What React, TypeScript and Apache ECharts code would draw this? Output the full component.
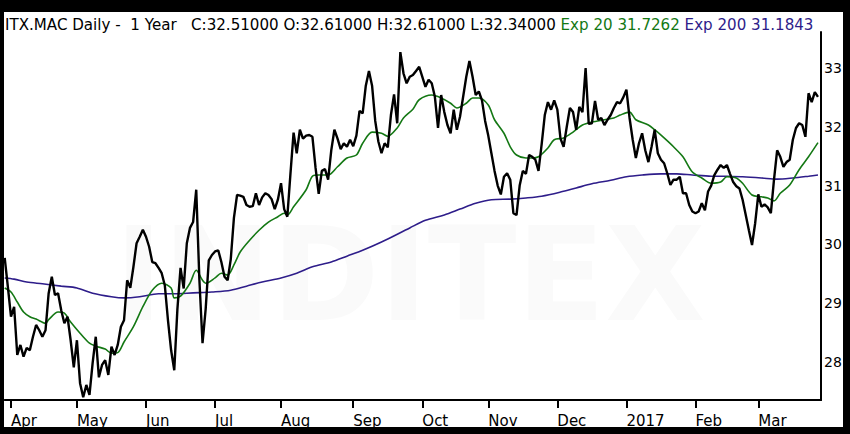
import React, { useEffect, useRef } from "react";
import * as echarts from "echarts";

// ---- data ----
const START_DATE = "2016-03-30"; // first trading day shown
const TITLE_PREFIX = "ITX.MAC Daily -  1 Year   ";
const OHLC_LABELS = ["C", "O", "H", "L"];
const OHLC_VALUES = ["32.51000", "32.61000", "32.61000", "32.34000"];
const EMA20_LABEL = "Exp 20 31.7262";
const EMA200_LABEL = "Exp 200 31.1843";

const price = [
  29.77, 29.28, 28.77, 28.94, 28.12, 28.29, 28.09, 28.24, 28.2, 28.43,
  28.63, 28.54, 28.43, 28.54, 29.17, 29.45, 29.14, 29.17, 28.88, 28.66,
  28.77, 28.37, 27.91, 28.37, 27.64, 27.4, 27.61, 27.44, 27.98, 28.43,
  27.74, 27.95, 28.03, 27.78, 28.26, 28.12, 28.29, 28.6, 28.71, 29.39,
  29.26, 29.62, 30.02, 30.13, 30.25, 30.13, 29.96, 29.7, 29.68, 29.6,
  29.51, 29.3, 28.71, 28.2, 27.86, 28.9, 29.6, 29.25, 30.02, 30.28,
  30.38, 30.93, 29.4, 28.32, 28.9, 29.73, 29.82, 29.88, 29.9, 29.7,
  29.45, 29.39, 29.75, 30.45, 30.84, 30.83, 30.81, 30.67, 30.64, 30.65,
  30.87, 30.67, 30.8, 30.87, 30.84, 30.77, 30.6, 30.76, 31.04, 30.6,
  30.47, 31.2, 31.9, 31.55, 31.95, 31.8, 31.85, 31.86, 31.83, 31.3,
  30.86, 31.25, 31.28, 31.1, 31.6, 31.95, 31.8, 31.62, 31.72, 31.66,
  31.78, 31.67, 31.85, 32.27, 32.23, 32.7, 32.95, 32.7, 32.1, 31.75,
  31.55, 31.72, 31.65, 32.2, 32.55, 32.06, 33.27, 32.91, 32.74, 32.85,
  32.88, 32.95, 33.02, 32.85, 32.68, 32.8, 32.74, 32.51, 31.98, 32.54,
  32.25, 32.03, 31.89, 32.29, 31.95, 32.17, 32.51, 32.85, 33.12, 32.85,
  32.54, 32.6, 32.45, 32.1, 31.85, 31.55, 31.25, 31.0, 30.85, 31.15,
  31.21, 31.1, 30.53, 30.5, 31.0, 31.25, 31.2, 31.52, 31.49, 31.44,
  31.25, 31.7, 32.2, 32.42, 32.29, 32.45, 32.29, 31.8, 31.66, 32.0,
  32.32, 32.25, 31.95, 32.34, 32.25, 33.0, 32.05, 32.06, 32.44, 32.12,
  32.15, 32.03, 32.12, 32.2, 32.32, 32.42, 32.4, 32.5, 32.63, 32.15,
  31.78, 31.47, 31.72, 31.89, 31.6, 31.4, 31.66, 31.95, 31.55, 31.44,
  31.38, 31.21, 31.01, 31.1, 31.1, 31.15, 30.87, 30.87, 30.67, 30.56,
  30.53, 30.56, 30.7, 30.58, 30.9, 31.0, 31.18, 31.27, 31.35, 31.3,
  31.35, 31.2, 31.06, 30.99, 30.95, 30.76, 30.5, 30.24, 29.99, 30.36,
  30.85, 30.64, 30.68, 30.63, 30.53, 31.1, 31.6, 31.49, 31.32, 31.4,
  31.44, 31.78, 31.98, 32.06, 32.03, 31.83, 32.57, 32.42, 32.59, 32.51,
];

// [trading-day index, value]
const ema20 = [
  [0, 29.26], [2, 29.19], [4, 29.02], [6, 28.85], [8, 28.77], [10, 28.73],
  [13, 28.66], [14, 28.72], [17, 28.85], [19, 28.83], [21, 28.68], [24, 28.49],
  [27, 28.32], [29, 28.27], [32, 28.22], [34, 28.15], [36, 28.16], [38, 28.34],
  [41, 28.6], [44, 28.94], [47, 29.22], [50, 29.34], [53, 29.26], [54, 29.09],
  [56, 29.12], [59, 29.34], [61, 29.56], [63, 29.39], [64, 29.34], [67, 29.43],
  [69, 29.51], [71, 29.48], [73, 29.65], [75, 29.87], [78, 30.07], [81, 30.24],
  [84, 30.38], [87, 30.47], [89, 30.53], [90, 30.5], [92, 30.64], [96, 30.93],
  [98, 31.16], [100, 31.18], [103, 31.18], [106, 31.32], [109, 31.47], [112, 31.52],
  [114, 31.72], [117, 31.91], [120, 31.89], [122, 31.84], [125, 31.98], [127, 32.15],
  [130, 32.3], [132, 32.46], [136, 32.54], [139, 32.49], [142, 32.4], [144, 32.32],
  [147, 32.4], [149, 32.49], [151, 32.49], [154, 32.37], [156, 32.12], [159, 31.89],
  [161, 31.66], [163, 31.52], [166, 31.47], [168, 31.47], [170, 31.49], [173, 31.64],
  [175, 31.78], [178, 31.81], [181, 31.91], [184, 32.03], [187, 32.08], [191, 32.12],
  [194, 32.15], [196, 32.2], [199, 32.25], [201, 32.12], [205, 32.03], [207, 31.95],
  [210, 31.81], [213, 31.66], [216, 31.49], [219, 31.23], [222, 31.13], [225, 31.04],
  [228, 31.06], [230, 31.15], [233, 31.13], [235, 31.04], [238, 30.84], [241, 30.81],
  [243, 30.79], [245, 30.74], [247, 30.87], [250, 31.01], [253, 31.27], [256, 31.49],
  [259, 31.73],
];

const ema200 = [
  [0, 29.43], [3, 29.41], [7, 29.36], [12, 29.33], [18, 29.29], [23, 29.26],
  [28, 29.17], [34, 29.11], [38, 29.09], [43, 29.11], [49, 29.16], [54, 29.16],
  [58, 29.17], [62, 29.18], [66, 29.19], [72, 29.22], [77, 29.29], [82, 29.36],
  [88, 29.43], [93, 29.51], [98, 29.62], [104, 29.7], [109, 29.8], [114, 29.9],
  [120, 30.04], [129, 30.28], [134, 30.41], [140, 30.5], [145, 30.6], [150, 30.7],
  [155, 30.76], [161, 30.77], [166, 30.79], [171, 30.82], [177, 30.89], [182, 30.96],
  [187, 31.03], [193, 31.09], [198, 31.15], [203, 31.18], [209, 31.2], [214, 31.2],
  [219, 31.18], [225, 31.16], [230, 31.16], [235, 31.15], [241, 31.13], [246, 31.11],
  [251, 31.13], [256, 31.16], [259, 31.18],
];

const yTicks = [28, 29, 30, 31, 32, 33];
const MONTH_LABELS = ["Jan", "Feb", "Mar", "Apr", "May", "Jun", "Jul", "Aug", "Sep", "Oct", "Nov", "Dec"];

const Y_MIN = 27.354;
const Y_MAX = 33.612;

function tradingDays(start: string, n: number): string[] {
  const out: string[] = [];
  const d = new Date(start + "T00:00:00Z");
  while (out.length < n) {
    const wd = d.getUTCDay();
    if (wd !== 0 && wd !== 6) out.push(d.toISOString().slice(0, 10));
    d.setUTCDate(d.getUTCDate() + 1);
  }
  return out;
}

const FONT = "'DejaVu Sans', Verdana, sans-serif";
const GREEN = "#147814";
const PURPLE = "#2e1d8a";

export default function App() {
  const ref = useRef<HTMLDivElement>(null);

  useEffect(() => {
    if (!ref.current) return;
    const chart = echarts.init(ref.current, undefined, { renderer: "svg" });

    const cats = tradingDays(START_DATE, price.length + 1);
    const isMonthStart = (idx: number) =>
      idx > 0 && cats[idx] && cats[idx - 1] && cats[idx].slice(5, 7) !== cats[idx - 1].slice(5, 7);

    const ohlc = OHLC_LABELS.map((l, i) => `${l}:${OHLC_VALUES[i]}`).join(" ");

    chart.setOption({
      animation: false,
      backgroundColor: "#000",
      title: {
        text: `{k|${TITLE_PREFIX}${ohlc} }{g|${EMA20_LABEL} }{p|${EMA200_LABEL}}`,
        left: 5,
        top: 17,
        padding: 0,
        textStyle: {
          fontSize: 15,
          fontFamily: FONT,
          fontWeight: "normal",
          rich: {
            k: { color: "#000", fontSize: 15.1, fontFamily: FONT },
            g: { color: GREEN, fontSize: 15.1, fontFamily: FONT },
            p: { color: PURPLE, fontSize: 15.1, fontFamily: FONT },
          },
        },
      },
      graphic: [
        {
          type: "rect",
          z: -100,
          silent: true,
          shape: { x: 4, y: 12, width: 839, height: 415 },
          style: { fill: "#fff" },
        },
        {
          type: "text",
          z: -90,
          silent: true,
          x: 410,
          y: 275,
          style: {
            text: "INDITEX",
            font: `bold 130px ${FONT}`,
            fill: "#fafafa",
            align: "center",
            verticalAlign: "middle",
          },
        },
      ],
      grid: { left: 4.7, right: 28.9, top: 32, bottom: 34, containLabel: false },
      xAxis: {
        type: "category",
        data: cats,
        boundaryGap: false,
        axisLine: { show: true, lineStyle: { color: "#000", width: 2 } },
        axisTick: {
          show: true,
          interval: (idx: number) => !!isMonthStart(idx),
          length: 8,
          lineStyle: { color: "#000", width: 2 },
        },
        axisLabel: {
          interval: (idx: number) => !!isMonthStart(idx),
          formatter: (v: string) => {
            const m = parseInt(v.slice(5, 7), 10) - 1;
            return m === 0 ? v.slice(0, 4) : MONTH_LABELS[m];
          },
          align: "left",
          margin: 13,
          color: "#000",
          fontSize: 15,
          fontFamily: FONT,
        },
        splitLine: { show: false },
      },
      yAxis: {
        type: "value",
        position: "right",
        min: Y_MIN,
        max: Y_MAX,
        axisLine: { show: true, lineStyle: { color: "#000", width: 2 } },
        axisTick: { show: false },
        splitLine: { show: false },
        axisLabel: {
          customValues: yTicks,
          color: "#000",
          fontSize: 14,
          fontFamily: FONT,
          margin: 3,
        },
      },
      series: [
        {
          name: "Exp 200",
          type: "line",
          data: ema200,
          smooth: 0.3,
          symbol: "none",
          lineStyle: { color: PURPLE, width: 1.6 },
          z: 2,
        },
        {
          name: "Exp 20",
          type: "line",
          data: ema20,
          smooth: 0.3,
          symbol: "none",
          lineStyle: { color: GREEN, width: 1.6 },
          z: 3,
        },
        {
          name: "ITX.MAC",
          type: "line",
          data: price,
          symbol: "none",
          lineStyle: { color: "#000", width: 2.4 },
          z: 4,
        },
      ],
    });

    return () => chart.dispose();
  }, []);

  return (
    <div
      ref={ref}
      style={{ position: "fixed", left: 0, top: 0, width: 850, height: 434 }}
    />
  );
}
